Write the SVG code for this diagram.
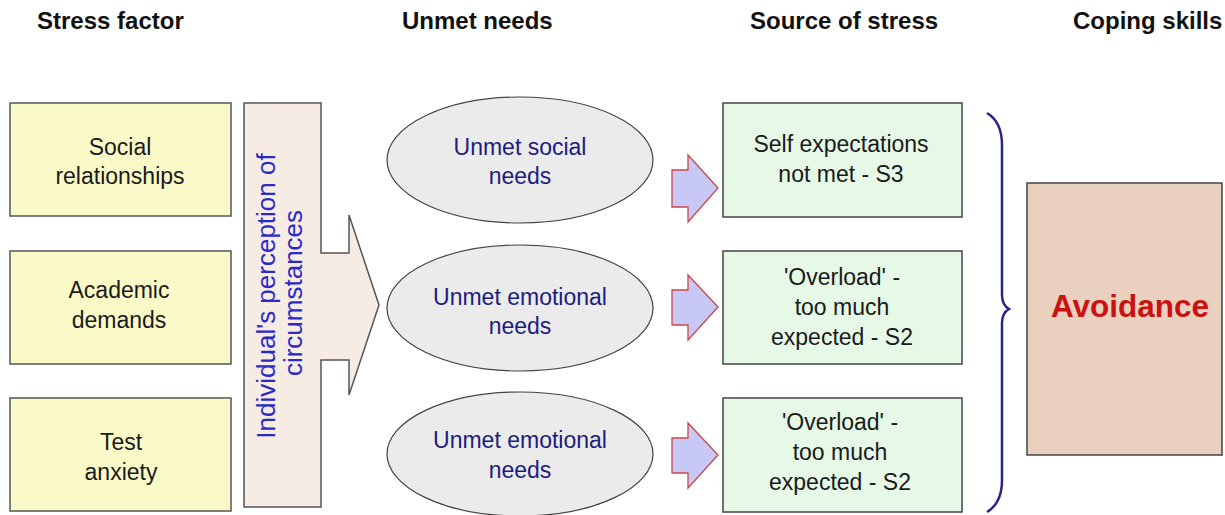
<svg xmlns="http://www.w3.org/2000/svg" width="1225" height="515" viewBox="0 0 1225 515">
<style>
.hdr{font-family:"Liberation Sans",Arial,sans-serif;font-size:24px;font-weight:bold;fill:#111}
.t{font-family:"Liberation Sans",Arial,sans-serif;font-size:23px;fill:#1a1a1a;text-anchor:middle}
.tb{font-family:"Liberation Sans",Arial,sans-serif;font-size:23px;fill:#1c1c80;text-anchor:middle}
.tv{font-family:"Liberation Sans",Arial,sans-serif;font-size:26px;fill:#2a2ac8;text-anchor:middle}
.yel{fill:#fafac8;stroke:#555;stroke-width:1.5}
.grn{fill:#e6f9e6;stroke:#444;stroke-width:1.5}
.ell{fill:#ebebeb;stroke:#444;stroke-width:1.2}
.sa{fill:#c8c8f6;stroke:#c84848;stroke-width:1.3}
</style>
<rect width="1225" height="515" fill="#ffffff"/>
<g id="headers">
<text class="hdr" x="37" y="29">Stress factor</text>
<text class="hdr" x="402" y="29">Unmet needs</text>
<text class="hdr" x="750" y="29">Source of stress</text>
<text class="hdr" x="1073" y="29">Coping skills</text>
</g>
<g id="factor-social"><rect class="yel" x="10" y="103" width="221" height="113"/><text class="t" x="120" y="155">Social</text><text class="t" x="120" y="184">relationships</text></g>
<g id="factor-academic"><rect class="yel" x="10" y="251" width="221" height="113"/><text class="t" x="119" y="298">Academic</text><text class="t" x="119" y="328">demands</text></g>
<g id="factor-test"><rect class="yel" x="10" y="398" width="221" height="113"/><text class="t" x="121" y="450">Test</text><text class="t" x="121" y="480">anxiety</text></g>
<g id="perception">
<polygon points="244,103 321,103 321,253 349,253 349,215 379,305 349,395 349,360 321,360 321,507 244,507" fill="#f6ece4" stroke="#555" stroke-width="1.5"/>
<text class="tv" transform="translate(275,296) rotate(-90)">Individual's perception of</text>
<text class="tv" transform="translate(302,293) rotate(-90)">circumstances</text>
</g>
<g id="need-social"><ellipse class="ell" cx="520" cy="160" rx="133" ry="63"/><text class="tb" x="520" y="155">Unmet social</text><text class="tb" x="520" y="184">needs</text></g>
<g id="need-emotional-1"><ellipse class="ell" cx="520" cy="308" rx="133" ry="63"/><text class="tb" x="520" y="305">Unmet emotional</text><text class="tb" x="520" y="334">needs</text></g>
<g id="need-emotional-2"><ellipse class="ell" cx="520" cy="454" rx="133" ry="62"/><text class="tb" x="520" y="448">Unmet emotional</text><text class="tb" x="520" y="478">needs</text></g>
<g id="connectors">
<polygon class="sa" points="672,170 688,170 688,155 718,188 688,222 688,207 672,207"/>
<polygon class="sa" points="672,290 688,290 688,275 718,307 688,340 688,325 672,325"/>
<polygon class="sa" points="672,438 688,438 688,423 718,455 688,488 688,473 672,473"/>
<path d="M987,113 Q1002,122 1002,145 L1002,295 Q1002,305 1009,309 Q1002,313 1002,323 L1002,480 Q1002,503 987,512" fill="none" stroke="#26268a" stroke-width="2.5"/>
</g>
<g id="source-s3"><rect class="grn" x="723" y="103" width="239" height="114"/><text class="t" x="841" y="152">Self expectations</text><text class="t" x="841" y="182">not met - S3</text></g>
<g id="source-s2a"><rect class="grn" x="723" y="251" width="239" height="113"/><text class="t" x="842" y="285">'Overload' -</text><text class="t" x="842" y="315">too much</text><text class="t" x="842" y="345">expected - S2</text></g>
<g id="source-s2b"><rect class="grn" x="723" y="398" width="239" height="114"/><text class="t" x="840" y="430">'Overload' -</text><text class="t" x="840" y="460">too much</text><text class="t" x="840" y="490">expected - S2</text></g>
<g id="avoidance"><rect x="1027" y="183" width="195" height="272" fill="#e9d0bf" stroke="#444" stroke-width="1.5"/><text x="1130" y="317" font-family="'Liberation Sans',Arial,sans-serif" font-size="31.5" font-weight="bold" fill="#cc1111" text-anchor="middle">Avoidance</text></g>
</svg>
